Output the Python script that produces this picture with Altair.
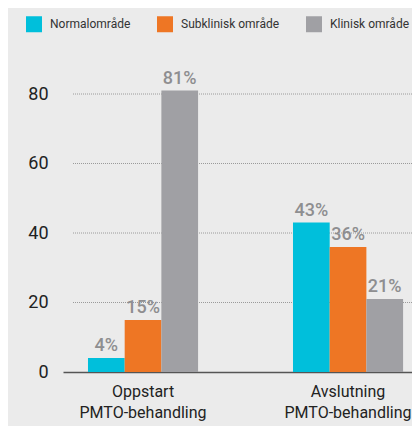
import altair as alt
import pandas as pd

groups = ["Oppstart|PMTO-behandling", "Avslutning|PMTO-behandling"]
categories = ["Normalområde", "Subklinisk område", "Klinisk område"]
oppstart = [4, 15, 81]
avslutning = [43, 36, 21]
grid_values = [20, 40, 60, 80]
colors = ["#00BFDB", "#EE7624", "#A0A0A4"]

rows = []
for g, vals in zip(groups, [oppstart, avslutning]):
    for c, v in zip(categories, vals):
        rows.append({"group": g, "category": c, "value": v, "label": f"{v}%"})
df = pd.DataFrame(rows)
grid_df = pd.DataFrame({"y": grid_values})

W = 349
H = 312.75
FONT = "Roboto"

xscale = alt.Scale(domain=groups, paddingInner=0.463, paddingOuter=0.0827, align=0.737)
yscale = alt.Scale(domain=[0, 90], nice=False)
oscale = alt.Scale(domain=categories, paddingInner=0, paddingOuter=0)

grid = alt.Chart(grid_df).mark_rule(color="#9A9A9A", strokeWidth=1, strokeDash=[1, 1]).encode(
    y=alt.Y("y:Q", scale=yscale),
    x=alt.value(10),
    x2=alt.value(W),
)

bars = alt.Chart(df).mark_bar().encode(
    x=alt.X("group:N", scale=xscale, sort=groups,
            axis=alt.Axis(title=None, domain=True, domainColor="#555555", domainWidth=1.5,
                          ticks=False, labelAngle=0, labelFontSize=16, labelColor="#222222",
                          labelFont=FONT, labelPadding=11, labelBaseline="top", labelLineHeight=21,
                          labelExpr="split(datum.label, '|')", labelLimit=300)),
    xOffset=alt.XOffset("category:N", scale=oscale, sort=categories),
    y=alt.Y("value:Q", scale=yscale,
            axis=alt.Axis(title=None, values=[0, 20, 40, 60, 80], grid=False, domain=False,
                          ticks=False, labelFontSize=18, labelColor="#222222", labelFont=FONT,
                          labelPadding=15)),
    color=alt.Color("category:N", sort=categories,
                    scale=alt.Scale(domain=categories, range=colors),
                    legend=alt.Legend(title=None, orient="none", direction="horizontal",
                                      legendX=-37, legendY=-43, symbolType="square",
                                      symbolSize=256, symbolStrokeWidth=0, symbolOpacity=1,
                                      labelFontSize=12, labelColor="#333333", labelFont=FONT,
                                      labelFontWeight="normal",
                                      labelOffset=8, columnPadding=26, labelLimit=300)),
)

text = alt.Chart(df).mark_text(dy=-7, baseline="alphabetic", align="center", fontSize=18,
                               fontWeight=500, color="#8E8E90", font=FONT).encode(
    x=alt.X("group:N", scale=xscale, sort=groups),
    xOffset=alt.XOffset("category:N", scale=oscale, sort=categories),
    y=alt.Y("value:Q", scale=yscale),
    text="label:N",
)

chart = alt.layer(grid, bars, text).properties(
    width=W, height=H, background="#EBEBEB",
    padding={"left": 55, "top": 51.25, "right": 0, "bottom": 54},
    autosize=alt.AutoSizeParams(type="none"),
).configure_view(stroke=None)

chart.save("out.html", embed_options={"renderer": "svg", "actions": False})
